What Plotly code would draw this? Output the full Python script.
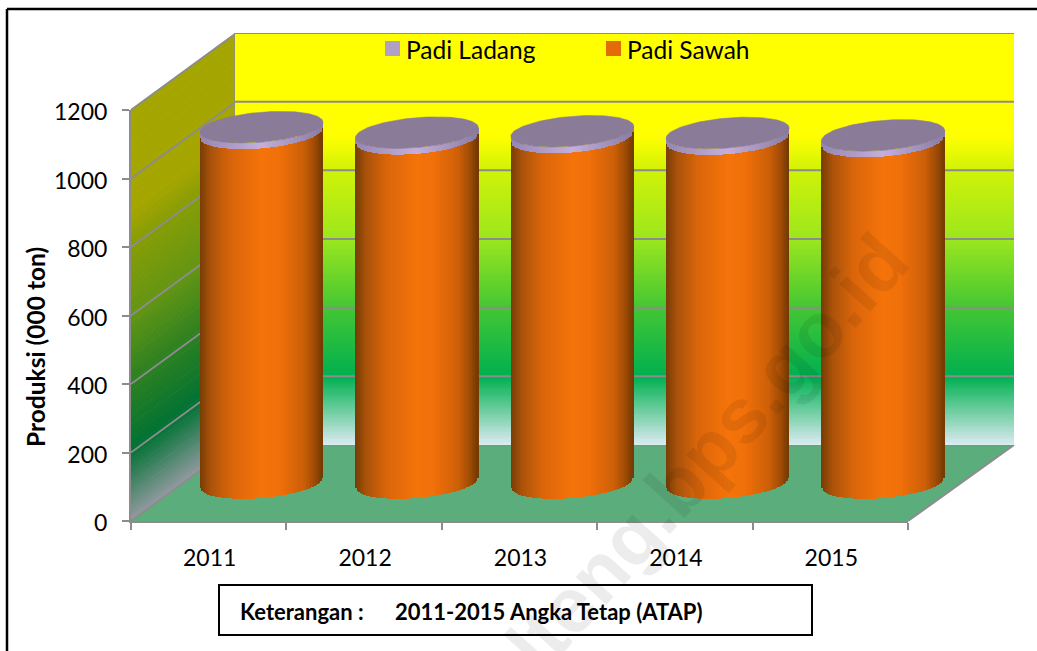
import numpy as np
import plotly.graph_objects as go

W, H = 1037, 651
years = [2011, 2012, 2013, 2014, 2015]
padi_sawah = [1021, 1005, 1009, 1004, 997]
padi_ladang = [18, 18, 18, 18, 18]
y_ticks = [0, 200, 400, 600, 800, 1000, 1200]
legend_names = ["Padi Ladang", "Padi Sawah"]
legend_colors = ["#B0A0C8", "#E36C09"]

FONT = "Lato"
GRID = "#8C8C8C"
# background gradient stops: value on wall, colour
wall_v = [0, 200, 400, 600, 800, 900, 1200]
wall_c = [(220, 235, 242), (0, 176, 80), (68, 198, 51), (155, 230, 30), (208, 242, 8), (255, 255, 0), (255, 255, 0)]
# cylinder shading stops
cyl_t = [0, .08, .25, .5, .65, .85, .95, 1]
cyl_c = [(122, 62, 6), (168, 82, 10), (217, 101, 10), (245, 116, 10), (240, 112, 10), (204, 95, 8), (154, 74, 5), (118, 58, 3)]
lil_t = [0, .5, 1]
lil_c = [(150, 135, 178), (196, 176, 218), (140, 125, 165)]


def ramp(v, xs, cs, k=1.0):
    return "rgb(%d,%d,%d)" % tuple(k * np.interp(v, xs, [c[i] for c in cs]) for i in range(3))


def px(x):
    return x / W


def py(y):
    return 1 - y / H


# geometry in pixels
FRONT_L, FRONT_R, FRONT_0, FRONT_T = 131, 908, 521, 110
BACK_L, BACK_R, BACK_0, BACK_T = 235, 1014, 445, 33
BAR_DX, BAR_0, BAR_T = 52.8, 483, 72
unit = (BAR_0 - BAR_T) / 1200  # px per value
cat_px = (FRONT_R - FRONT_L) / 5
R = 60.6 / cat_px  # slice-centre radius in x units
RE = 61.5 / cat_px  # top ellipse radius in x units
B = 15 / unit  # ellipse half height in value units
S = 5 / unit  # shear at the ellipse edge
BAR_LOW = -80  # room below zero for the curved cylinder feet

fig = go.Figure()

# back wall
vv = np.linspace(0, 1200, 241)
fig.add_trace(go.Heatmap(
    x=[0, 1], y=vv, z=np.column_stack([vv, vv]),
    colorscale=[[v / 1200, ramp(v, wall_v, wall_c)] for v in wall_v],
    zmin=0, zmax=1200, showscale=False, hoverinfo="skip", xaxis="x", yaxis="y"))
gx, gy = [], []
for v in y_ticks[1:]:
    gx += [0, 1, None]
    gy += [v, v, None]
fig.add_trace(go.Scatter(x=gx, y=gy, mode="lines", line=dict(color=GRID, width=2),
                         hoverinfo="skip", showlegend=False, xaxis="x", yaxis="y"))

# cylinders
t = np.linspace(-1, 1, 81)
frac = (t + 1) / 2
dt = t[1] - t[0]
edge = -B * np.sqrt(np.clip(1 - t ** 2, 0, 1)) + S * t
for i, yr in enumerate(years):
    fig.add_trace(go.Bar(
        x=yr + t * R, y=[padi_sawah[i]] * len(t), base=edge, width=dt * R * 1.15,
        marker=dict(color=[ramp(f, cyl_t, cyl_c) for f in frac], line=dict(width=0)),
        hoverinfo="skip", showlegend=False, xaxis="x2", yaxis="y2"))
    fig.add_trace(go.Bar(
        x=yr + t * R, y=[padi_ladang[i]] * len(t), base=edge + padi_sawah[i], width=dt * R * 1.15,
        marker=dict(color=[ramp(f, lil_t, lil_c) for f in frac], line=dict(width=0)),
        hoverinfo="skip", showlegend=False, xaxis="x2", yaxis="y2"))
    th = np.linspace(0, 2 * np.pi, 121)
    total = padi_sawah[i] + padi_ladang[i]
    fig.add_trace(go.Scatter(
        x=yr + RE * np.cos(th), y=total + B * np.sin(th) + S * np.cos(th),
        mode="lines", fill="toself", fillcolor="#8A7B98", line=dict(color="#8A7B98", width=0.5),
        hoverinfo="skip", showlegend=False, xaxis="x2", yaxis="y2"))

# front axis carrier
fig.add_trace(go.Scatter(x=[str(y) for y in years], y=[a + b for a, b in zip(padi_sawah, padi_ladang)],
                         mode="none", hoverinfo="skip", showlegend=False, xaxis="x3", yaxis="y3"))

shapes = []
# side wall gradient bands
dv = 10
slant = FRONT_0 - BACK_0
sc = (FRONT_0 - FRONT_T) / 1200
for v in np.arange(0, 1200, dv):
    y0 = FRONT_0 - v * sc
    y1 = FRONT_0 - (v + dv * 1.2) * sc
    path = "M %f %f L %f %f L %f %f L %f %f Z" % (
        px(FRONT_L), py(y0), px(BACK_L), py(y0 - slant),
        px(BACK_L), py(y1 - slant), px(FRONT_L), py(y1))
    shapes.append(dict(type="path", path=path, xref="paper", yref="paper", layer="below",
                       fillcolor=ramp(v, wall_v, wall_c, 0.65), line=dict(width=0)))
# floor
path = "M %f %f L %f %f L %f %f L %f %f Z" % (
    px(FRONT_L), py(FRONT_0), px(FRONT_R), py(FRONT_0), px(BACK_R), py(BACK_0), px(BACK_L), py(BACK_0))
shapes.append(dict(type="path", path=path, xref="paper", yref="paper", layer="below",
                   fillcolor="#5BAD7C", line=dict(width=0)))


def seg(x0, y0, x1, y1, color=GRID, width=2, layer="below"):
    return dict(type="line", xref="paper", yref="paper", x0=px(x0), y0=py(y0), x1=px(x1), y1=py(y1),
                line=dict(color=color, width=width), layer=layer)


for v in y_ticks:
    y0 = FRONT_0 - v * sc
    shapes.append(seg(FRONT_L, y0, BACK_L, y0 - slant))
shapes.append(seg(BACK_L, BACK_0, BACK_R, BACK_0))
shapes.append(seg(BACK_L, BACK_0, BACK_L, BACK_T, width=1.5))
shapes.append(seg(FRONT_R, FRONT_0, BACK_R, BACK_0))
# outer frame
shapes.append(seg(7, 9, W + 2, 9, color="#000000", width=2.5, layer="above"))
shapes.append(seg(7, 9, 7, H + 2, color="#000000", width=2.5, layer="above"))
# note box
shapes.append(dict(type="rect", xref="paper", yref="paper", x0=px(219), x1=px(812), y0=py(635), y1=py(585),
                   line=dict(color="#000000", width=2), fillcolor="#FFFFFF", layer="above"))

annotations = [
    dict(text="<b>Keterangan :</b>", xref="paper", yref="paper", x=px(238), y=py(611), xanchor="left",
         yanchor="middle", showarrow=False, font=dict(family=FONT, size=22, color="#000000")),
    dict(text="<b>2011-2015 Angka Tetap (ATAP)</b>", xref="paper", yref="paper", x=px(393), y=py(611),
         xanchor="left", yanchor="middle", showarrow=False, font=dict(family=FONT, size=22, color="#000000")),
    dict(text="<b>sulteng.bps.go.id</b>", xref="x2", yref="y2",
         x=2010.5 + (677 - (FRONT_L + BAR_DX)) / cat_px, y=(BAR_0 - 486) / unit,
         xanchor="center", yanchor="middle", showarrow=False, textangle=-48,
         font=dict(family="Liberation Sans", size=78, color="rgba(0,0,0,0.075)")),
    dict(text="<b>Produksi (000 ton)</b>", xref="paper", yref="paper", x=px(35), y=py(347), xanchor="center",
         yanchor="middle", showarrow=False, textangle=-90, font=dict(family=FONT, size=24.5, color="#000000")),
]
# legend keys and labels
for name, color, x0 in zip(legend_names, legend_colors, [385, 606]):
    shapes.append(dict(type="rect", xref="paper", yref="paper", x0=px(x0), x1=px(x0 + 15), y0=py(56), y1=py(41),
                       fillcolor=color, line=dict(width=0), layer="above"))
    annotations.append(dict(text=name, xref="paper", yref="paper", x=px(x0 + 19), y=py(50), xanchor="left",
                            yanchor="middle", showarrow=False, font=dict(family=FONT, size=24.5, color="#000000")))

fig.update_layout(
    width=W, height=H, margin=dict(l=0, r=0, t=0, b=0, autoexpand=False), autosize=False,
    paper_bgcolor="#FFFFFF", plot_bgcolor="rgba(0,0,0,0)", barmode="overlay", bargap=0,
    font=dict(family=FONT, color="#000000", size=23),
    showlegend=False,
    shapes=shapes, annotations=annotations,
    xaxis=dict(domain=[px(BACK_L), px(BACK_R)], range=[0, 1], visible=False, anchor="y"),
    yaxis=dict(domain=[py(BACK_0), py(BACK_T)], range=[0, 1200], visible=False, anchor="x"),
    xaxis2=dict(domain=[px(FRONT_L + BAR_DX), px(FRONT_R + BAR_DX)], range=[2010.5, 2015.5], visible=False, anchor="y2"),
    yaxis2=dict(domain=[py(BAR_0 - BAR_LOW * unit), py(BAR_T)], range=[BAR_LOW, 1200], visible=False, anchor="x2"),
    xaxis3=dict(domain=[px(FRONT_L), px(FRONT_R)], type="category", categoryorder="array",
                categoryarray=[str(y) for y in years], range=[-0.5, 4.5], anchor="y3",
                tickson="boundaries", ticks="outside", ticklen=7, tickwidth=2, tickcolor=GRID,
                showline=True, linecolor=GRID, linewidth=2, showgrid=False, zeroline=False,
                ticklabelstandoff=15, ticklabelshift=1, tickfont=dict(family=FONT, size=23)),
    yaxis3=dict(domain=[py(FRONT_0), py(FRONT_T)], range=[0, 1200], anchor="x3", tickvals=y_ticks,
                ticks="outside", ticklen=7, tickwidth=2, tickcolor=GRID,
                showline=True, linecolor=GRID, linewidth=2, showgrid=False, zeroline=False,
                ticklabelstandoff=10, ticklabelshift=2, tickfont=dict(family=FONT, size=23)),
)

fig.write_html("out.html", config=dict(displayModeBar=False),
               post_script="document.body.style.margin='0';document.body.style.overflow='hidden';")
